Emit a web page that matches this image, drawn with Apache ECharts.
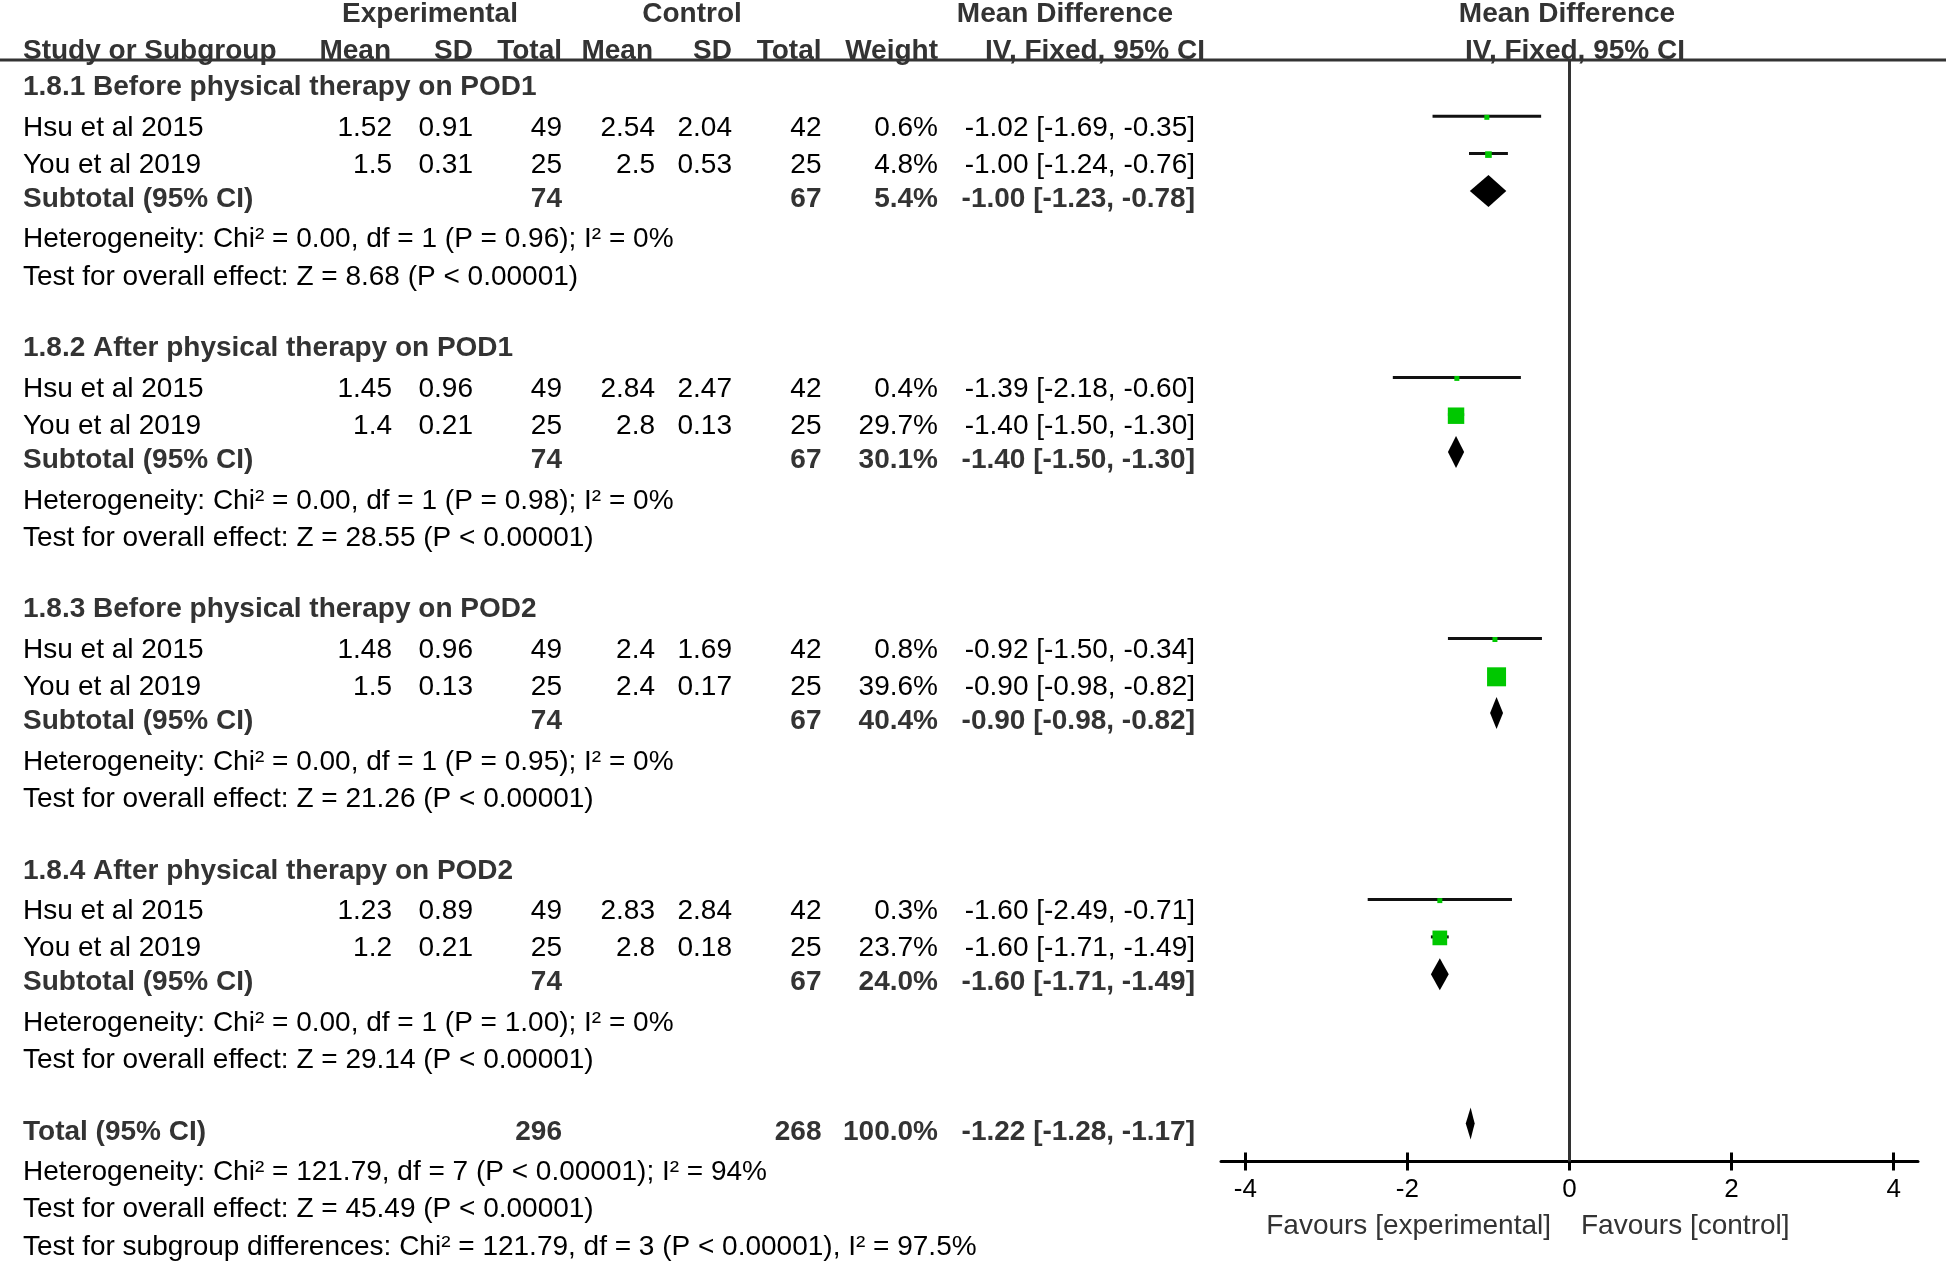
<!DOCTYPE html>
<html><head><meta charset="utf-8">
<script src="https://cdn.jsdelivr.net/npm/echarts@6/dist/echarts.min.js"></script>
<style>html,body{margin:0;padding:0;background:#fff}#c{width:1946px;height:1261px}</style>
</head><body><div id="c"></div>
<script>
// ---------- DATA ----------
const subgroups = ['1.8.1 Before physical therapy on POD1', '1.8.2 After physical therapy on POD1',
                   '1.8.3 Before physical therapy on POD2', '1.8.4 After physical therapy on POD2'];
const studyNames = ['Hsu et al 2015', 'You et al 2019'];
const expMean  = [[1.52, 1.5], [1.45, 1.4], [1.48, 1.5], [1.23, 1.2]];
const expSD    = [[0.91, 0.31], [0.96, 0.21], [0.96, 0.13], [0.89, 0.21]];
const expTotal = [[49, 25], [49, 25], [49, 25], [49, 25]];
const ctlMean  = [[2.54, 2.5], [2.84, 2.8], [2.4, 2.4], [2.83, 2.8]];
const ctlSD    = [[2.04, 0.53], [2.47, 0.13], [1.69, 0.17], [2.84, 0.18]];
const ctlTotal = [[42, 25], [42, 25], [42, 25], [42, 25]];
const weight   = [[0.6, 4.8], [0.4, 29.7], [0.8, 39.6], [0.3, 23.7]];
const md       = [[-1.02, -1.00], [-1.39, -1.40], [-0.92, -0.90], [-1.60, -1.60]];
const ciLow    = [[-1.69, -1.24], [-2.18, -1.50], [-1.50, -0.98], [-2.49, -1.71]];
const ciHigh   = [[-0.35, -0.76], [-0.60, -1.30], [-0.34, -0.82], [-0.71, -1.49]];
const subExpTotal = [74, 74, 74, 74];
const subCtlTotal = [67, 67, 67, 67];
const subWeight = [5.4, 30.1, 40.4, 24.0];
const subMD   = [-1.00, -1.40, -0.90, -1.60];
const subLow  = [-1.23, -1.50, -0.98, -1.71];
const subHigh = [-0.78, -1.30, -0.82, -1.49];
const heterogeneity = [
  'Heterogeneity: Chi² = 0.00, df = 1 (P = 0.96); I² = 0%',
  'Heterogeneity: Chi² = 0.00, df = 1 (P = 0.98); I² = 0%',
  'Heterogeneity: Chi² = 0.00, df = 1 (P = 0.95); I² = 0%',
  'Heterogeneity: Chi² = 0.00, df = 1 (P = 1.00); I² = 0%'];
const overallTests = [
  'Test for overall effect: Z = 8.68 (P < 0.00001)',
  'Test for overall effect: Z = 28.55 (P < 0.00001)',
  'Test for overall effect: Z = 21.26 (P < 0.00001)',
  'Test for overall effect: Z = 29.14 (P < 0.00001)'];
const totalExp = 296, totalCtl = 268, totalWeight = 100.0;
const totalMD = -1.22, totalLow = -1.28, totalHigh = -1.17;
const totalNotes = [
  'Heterogeneity: Chi² = 121.79, df = 7 (P < 0.00001); I² = 94%',
  'Test for overall effect: Z = 45.49 (P < 0.00001)',
  'Test for subgroup differences: Chi² = 121.79, df = 3 (P < 0.00001), I² = 97.5%'];
const xTicks = [-4, -2, 0, 2, 4];
const favourLabels = ['Favours [experimental]', 'Favours [control]'];

// ---------- LAYOUT ----------
const FONT = '"Liberation Sans", Arial, Helvetica, sans-serif';
const COL = {name: 23, eMean: 392, eSD: 473, eTot: 562, cMean: 655, cSD: 732, cTot: 821.5, wt: 938, ci: 1195};
const TXT_Y0 = 90.5, ROW = 37.3;           // text row mapping
const BOLD_SHIFT = -0.08;
const H1 = -2.03, H2 = -1.06, FAV = 30.445;

const fmtCI = (m, l, h) => m.toFixed(2) + ' [' + l.toFixed(2) + ', ' + h.toFixed(2) + ']';
const cells = [];
const add = (x, s, text, align, bold, color) => cells.push({x, s, text: String(text), align, bold, color});

// headers
add(430, H1, 'Experimental', 'center', true);
add(692, H1, 'Control', 'center', true);
add(1065, H1, 'Mean Difference', 'center', true);
add(1567, H1, 'Mean Difference', 'center', true);
add(COL.name, H2, 'Study or Subgroup', 'left', true);
add(391, H2, 'Mean', 'right', true);
add(473, H2, 'SD', 'right', true);
add(COL.eTot, H2, 'Total', 'right', true);
add(653, H2, 'Mean', 'right', true);
add(COL.cSD, H2, 'SD', 'right', true);
add(COL.cTot, H2, 'Total', 'right', true);
add(COL.wt, H2, 'Weight', 'right', true);
add(1095, H2, 'IV, Fixed, 95% CI', 'center', true);
add(1575, H2, 'IV, Fixed, 95% CI', 'center', true);

const plotItems = [];
subgroups.forEach((g, gi) => {
  const b = gi * 7;
  add(COL.name, b + BOLD_SHIFT, g, 'left', true);
  studyNames.forEach((n, si) => {
    const s = b + 1 + si;
    add(COL.name, s, n, 'left', false);
    add(COL.eMean, s, expMean[gi][si], 'right', false);
    add(COL.eSD, s, expSD[gi][si], 'right', false);
    add(COL.eTot, s, expTotal[gi][si], 'right', false);
    add(COL.cMean, s, ctlMean[gi][si], 'right', false);
    add(COL.cSD, s, ctlSD[gi][si], 'right', false);
    add(COL.cTot, s, ctlTotal[gi][si], 'right', false);
    add(COL.wt, s, weight[gi][si].toFixed(1) + '%', 'right', false);
    add(COL.ci, s, fmtCI(md[gi][si], ciLow[gi][si], ciHigh[gi][si]), 'right', false);
    plotItems.push({type: 'study', s, m: md[gi][si], l: ciLow[gi][si], h: ciHigh[gi][si], w: weight[gi][si]});
  });
  const ss = b + 3 + BOLD_SHIFT;
  add(COL.name, ss, 'Subtotal (95% CI)', 'left', true);
  add(COL.eTot, ss, subExpTotal[gi], 'right', true);
  add(COL.cTot, ss, subCtlTotal[gi], 'right', true);
  add(COL.wt, ss, subWeight[gi].toFixed(1) + '%', 'right', true);
  add(COL.ci, ss, fmtCI(subMD[gi], subLow[gi], subHigh[gi]), 'right', true);
  plotItems.push({type: 'diamond', s: b + 3, m: subMD[gi], l: subLow[gi], h: subHigh[gi]});
  add(COL.name, b + 4, heterogeneity[gi], 'left', false);
  add(COL.name, b + 5, overallTests[gi], 'left', false);
});
add(COL.name, 28 + BOLD_SHIFT, 'Total (95% CI)', 'left', true);
add(COL.eTot, 28 + BOLD_SHIFT, totalExp, 'right', true);
add(COL.cTot, 28 + BOLD_SHIFT, totalCtl, 'right', true);
add(COL.wt, 28 + BOLD_SHIFT, totalWeight.toFixed(1) + '%', 'right', true);
add(COL.ci, 28 + BOLD_SHIFT, fmtCI(totalMD, totalLow, totalHigh), 'right', true);
plotItems.push({type: 'diamond', s: 28, m: totalMD, l: totalLow, h: totalHigh});
totalNotes.forEach((t, i) => add(COL.name, 29 + i, t, 'left', false));
add(1551, FAV, favourLabels[0], 'right', false, '#333');
add(1581, FAV, favourLabels[1], 'left', false, '#333');

const maxW = Math.max(...weight.flat());
const PLOT_MIN = -0.5094, PLOT_MAX = 29.024;

const chart = echarts.init(document.getElementById('c'), null, {renderer: 'canvas'});
chart.setOption({
  animation: false,
  backgroundColor: '#fff',
  grid: [
    {left: 0, right: 0, top: 0, bottom: 0},
    {left: 1221, width: 697, top: 60, height: 1101.6}
  ],
  xAxis: [
    {gridIndex: 0, type: 'value', min: 0, max: 1946, show: false},
    {gridIndex: 1, type: 'value', min: -4.3, max: 4.3, position: 'bottom',
     axisLine: {show: true, onZero: false, lineStyle: {color: '#000', width: 3}},
     axisTick: {show: true, customValues: xTicks, length: 9, inside: false, lineStyle: {color: '#000', width: 3}},
     axisLabel: {show: true, customValues: xTicks, color: '#000', fontSize: 26, fontFamily: FONT, margin: 15},
     splitLine: {show: false}},
    {gridIndex: 1, type: 'value', min: -4.3, max: 4.3, position: 'bottom',
     axisLine: {show: false, onZero: false},
     axisTick: {show: true, customValues: xTicks, length: 9, inside: true, lineStyle: {color: '#000', width: 3}},
     axisLabel: {show: false}, splitLine: {show: false}}
  ],
  yAxis: [
    {gridIndex: 0, type: 'value', min: -TXT_Y0 / ROW, max: (1261 - TXT_Y0) / ROW, inverse: true, show: false},
    {gridIndex: 1, type: 'value', min: PLOT_MIN, max: PLOT_MAX, inverse: true, show: false}
  ],
  graphic: [
    {type: 'line', shape: {x1: 0, y1: 60, x2: 1946, y2: 60}, style: {stroke: '#333', lineWidth: 3}, z: 10}
  ],
  series: [
    {
      type: 'custom', xAxisIndex: 0, yAxisIndex: 0, silent: true, clip: false,
      data: cells.map(c => [c.x, c.s]),
      renderItem: (params, api) => {
        const c = cells[params.dataIndex];
        const p = api.coord([api.value(0), api.value(1)]);
        return {type: 'text', x: p[0], y: p[1], style: {
          text: c.text, fill: c.color || (c.bold ? '#333' : '#000'),
          font: (c.bold ? 'bold ' : '') + '28px ' + FONT, align: c.align, verticalAlign: 'middle'}};
      }
    },
    {
      type: 'line', xAxisIndex: 1, yAxisIndex: 1, silent: true, symbol: 'none',
      data: [[0, PLOT_MIN], [0, PLOT_MAX]], lineStyle: {color: '#333', width: 3}, z: 1
    },
    {
      type: 'custom', xAxisIndex: 1, yAxisIndex: 1, silent: true, clip: false, z: 3,
      data: plotItems.map(p => [p.m, p.s]),
      renderItem: (params, api) => {
        const it = plotItems[params.dataIndex];
        const c = api.coord([it.m, it.s]);
        const lo = api.coord([it.l, it.s]);
        const hi = api.coord([it.h, it.s]);
        if (it.type === 'study') {
          const size = Math.max(5, 19 * Math.sqrt(it.w / maxW));
          return {type: 'group', children: [
            {type: 'line', shape: {x1: lo[0], y1: c[1], x2: hi[0], y2: c[1]}, style: {stroke: '#111', lineWidth: 3}},
            {type: 'rect', shape: {x: c[0] - size / 2, y: c[1] - size / 2 + 1, width: size, height: size}, style: {fill: '#00c800'}}
          ]};
        }
        const hh = 16;
        return {type: 'polygon', shape: {points: [[lo[0], c[1]], [c[0], c[1] - hh], [hi[0], c[1]], [c[0], c[1] + hh]]},
                style: {fill: '#000'}};
      }
    }
  ]
});
</script></body></html>
